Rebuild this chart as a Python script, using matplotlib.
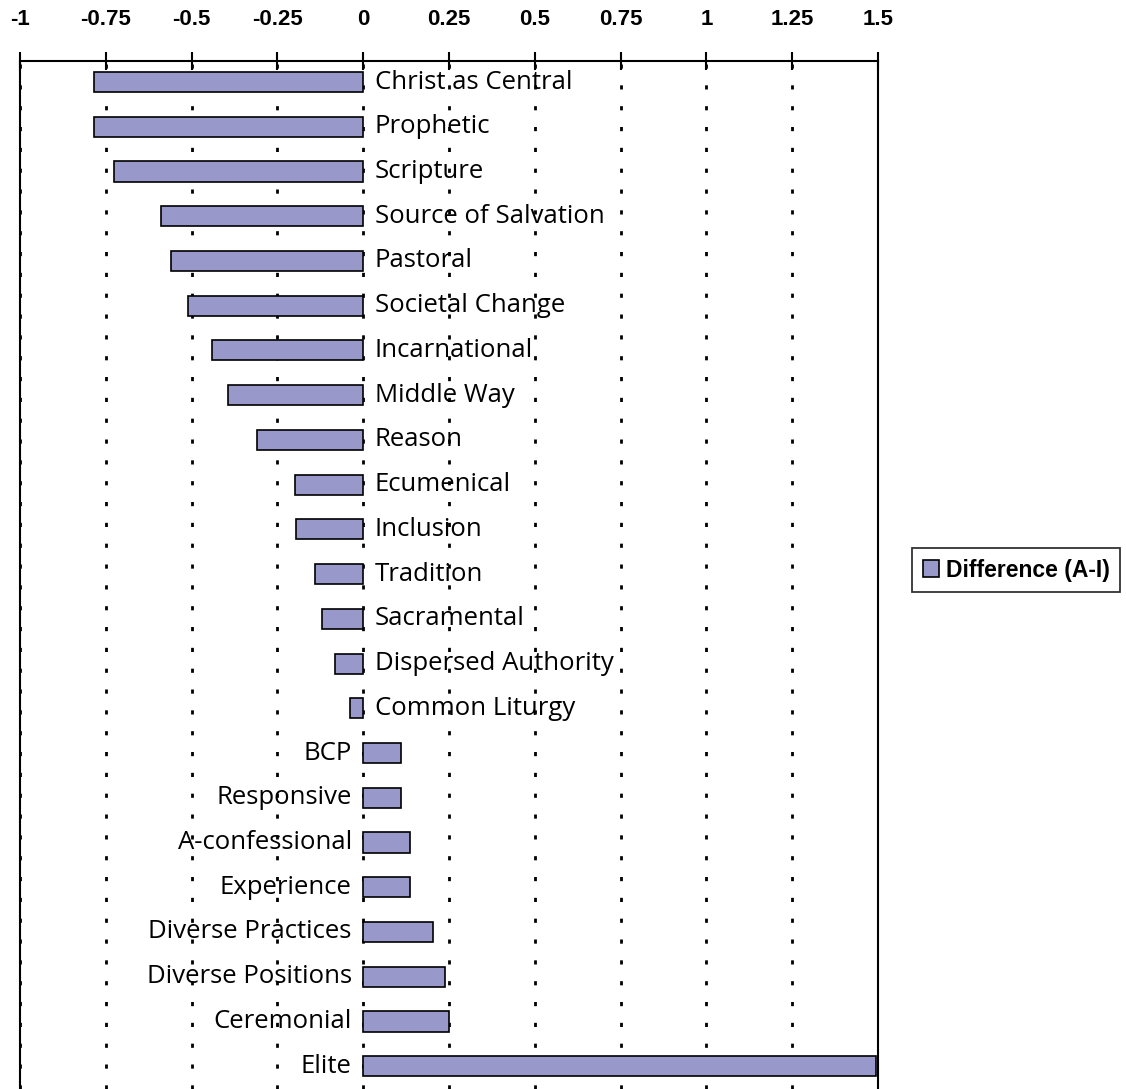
import matplotlib.pyplot as plt
from matplotlib.patches import Patch

categories = ['Christ as Central', 'Prophetic', 'Scripture', 'Source of Salvation',
              'Pastoral', 'Societal Change', 'Incarnational', 'Middle Way', 'Reason',
              'Ecumenical', 'Inclusion', 'Tradition', 'Sacramental',
              'Dispersed Authority', 'Common Liturgy', 'BCP', 'Responsive',
              'A-confessional', 'Experience', 'Diverse Practices',
              'Diverse Positions', 'Ceremonial', 'Elite']
values = [-0.785, -0.785, -0.725, -0.59, -0.56, -0.51, -0.44, -0.395, -0.31,
          -0.2, -0.195, -0.14, -0.12, -0.083, -0.038, 0.11, 0.11, 0.137,
          0.137, 0.204, 0.238, 0.25, 1.495]
x_ticks = [-1, -0.75, -0.5, -0.25, 0, 0.25, 0.5, 0.75, 1, 1.25, 1.5]
x_tick_labels = ['-1', '-0.75', '-0.5', '-0.25', '0', '0.25', '0.5', '0.75', '1', '1.25', '1.5']
series_name = 'Difference (A-I)'

bar_color = '#9898cb'

fig = plt.figure(figsize=(11.26, 10.89), dpi=100)
ax = fig.add_axes([20 / 1126, 0, (878 - 20) / 1126, 1 - 61 / 1089])

y = list(range(len(categories)))
ax.barh(y, values, height=0.45, color=bar_color, edgecolor='black', linewidth=1.2, zorder=3)

# labels sit next to the zero line, opposite side of the bar
for yi, v, name in zip(y, values, categories):
    if v < 0:
        ax.text(0.033, yi, name, ha='left', va='center', fontsize=18.5,
                family='Open Sans', zorder=4)
    else:
        ax.text(-0.033, yi, name, ha='right', va='center', fontsize=18.5,
                family='Open Sans', zorder=4)

ax.set_xlim(-1, 1.5)
ax.set_ylim(22.51, -0.47)
ax.set_yticks([])
ax.set_xticks(x_ticks)
ax.set_xticklabels(x_tick_labels, fontsize=16, fontweight='bold', family='Liberation Sans')
ax.xaxis.tick_top()
ax.tick_params(axis='x', direction='inout', length=13, width=1.5, pad=16)

for xv in x_ticks:
    ax.axvline(xv, color='black', linestyle=(0, (1.5, 6)), linewidth=2, zorder=1)

ax.spines['bottom'].set_visible(False)
for s in ['top', 'left', 'right']:
    ax.spines[s].set_linewidth(1.5)

handle = Patch(facecolor=bar_color, edgecolor='black', linewidth=1.2)
fig.legend([handle], [series_name], loc='center', bbox_to_anchor=(1016 / 1126, 1 - 570 / 1089),
           frameon=True, fancybox=False, edgecolor='black', handlelength=0.7, handleheight=0.7,
           handletextpad=0.3, borderpad=0.45, borderaxespad=0,
           prop={'family': 'Liberation Sans', 'weight': 'bold', 'size': 16.5})
fig.legends[0].get_frame().set_linewidth(1.3)

fig.savefig('out.png', dpi=100)
